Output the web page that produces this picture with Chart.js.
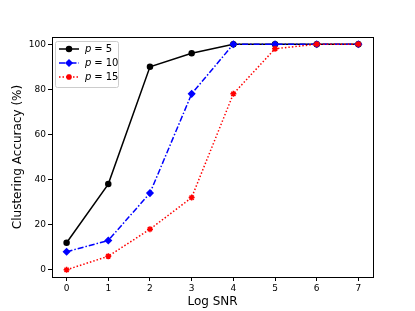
<!DOCTYPE html>
<html>
<head>
<meta charset="utf-8">
<script src="https://cdn.jsdelivr.net/npm/chart.js@4/dist/chart.umd.min.js"></script>
<style>
  html, body { margin: 0; padding: 0; background: #fff; }
  #wrap { width: 415px; height: 311px; }
</style>
</head>
<body>
<div id="wrap"><canvas id="chart" width="415" height="311"></canvas></div>
<script>
const logSnr = [0, 1, 2, 3, 4, 5, 6, 7];
const accP5 = [12, 38, 90, 96, 100, 100, 100, 100];
const accP10 = [8, 13, 34, 78, 100, 100, 100, 100];
const accP15 = [0, 6, 18, 32, 78, 98, 100, 100];
const seriesNames = ['5', '10', '15'];
const xTicks = [0, 1, 2, 3, 4, 5, 6, 7];
const yTicks = [0, 20, 40, 60, 80, 100];

const font = 'DejaVu Sans';

function pts(ys) {
  return logSnr.map((x, i) => ({ x: x, y: ys[i] }));
}

// full box around plot area plus matplotlib-like legend
const boxAndLegend = {
  id: 'boxAndLegend',
  afterDraw(chart) {
    const ctx = chart.ctx;
    const a = chart.chartArea;
    ctx.save();
    ctx.strokeStyle = '#000';
    ctx.lineWidth = 1;
    ctx.strokeRect(a.left + 0.5, a.top + 0.5, a.right - a.left, a.bottom - a.top);

    // legend
    const lx = a.left + 3, ly = a.top + 4, lw = 63, lh = 46;
    ctx.fillStyle = 'rgba(255,255,255,0.8)';
    ctx.strokeStyle = '#ccc';
    ctx.beginPath();
    ctx.roundRect(lx + 0.5, ly + 0.5, lw, lh, 2);
    ctx.fill();
    ctx.stroke();
    chart.data.datasets.forEach((ds, i) => {
      const y = ly + 8 + i * 14;
      const x0 = lx + 4, x1 = lx + 24;
      ctx.strokeStyle = ds.borderColor;
      ctx.fillStyle = ds.borderColor;
      ctx.lineWidth = ds.borderWidth;
      ctx.setLineDash(ds.borderDash || []);
      ctx.beginPath();
      ctx.moveTo(x0, y);
      ctx.lineTo(x1, y);
      ctx.stroke();
      ctx.setLineDash([]);
      Chart.helpers.drawPoint(ctx, {
        pointStyle: ds.pointStyle, radius: ds.pointRadius, borderWidth: 1.5
      }, (x0 + x1) / 2, y);
      ctx.fillStyle = '#000';
      ctx.textBaseline = 'middle';
      ctx.font = 'italic 10px ' + font;
      ctx.fillText('p', x1 + 6, y);
      ctx.font = '10px ' + font;
      ctx.fillText(' = ' + seriesNames[i], x1 + 12, y);
    });
    ctx.restore();
  }
};

function mk(label, data, color, dash, style, r, order) {
  return {
    label: label, data: pts(data), order: order,
    borderColor: color, backgroundColor: color,
    pointBackgroundColor: color, pointBorderColor: color,
    borderWidth: 1.5, borderDash: dash,
    pointStyle: style, pointRadius: r, pointHoverRadius: r,
    pointBorderWidth: 1.5, tension: 0, fill: false
  };
}

new Chart(document.getElementById('chart'), {
  type: 'line',
  data: {
    datasets: [
      mk('p = 5', accP5, '#000000', [], 'circle', 2.5, 3),
      mk('p = 10', accP10, '#0000ff', [6, 2, 1.5, 2], 'rectRot', 3, 2),
      mk('p = 15', accP15, '#ff0000', [1.5, 2], 'star', 3, 1)
    ]
  },
  options: {
    responsive: false,
    animation: false,
    layout: { padding: { top: 37, right: 42, bottom: 2, left: 11 } },
    plugins: { legend: { display: false }, tooltip: { enabled: false } },
    scales: {
      x: {
        type: 'linear', min: -0.35, max: 7.35,
        afterBuildTicks: s => { s.ticks = xTicks.map(v => ({ value: v })); },
        afterFit: s => { s.height = 32; },
        grid: { drawOnChartArea: false, drawTicks: true, tickLength: 4, color: '#000' },
        border: { display: false },
        ticks: { color: '#000', font: { family: font, size: 9 }, padding: 2, maxRotation: 0 },
        title: { display: true, text: 'Log SNR', color: '#000', font: { family: font, size: 12 }, padding: { top: 2, bottom: 0 } }
      },
      y: {
        type: 'linear', min: -3.2, max: 103.2,
        afterBuildTicks: s => { s.ticks = yTicks.map(v => ({ value: v })); },
        afterFit: s => { s.width = 41; },
        grid: { drawOnChartArea: false, drawTicks: true, tickLength: 4, color: '#000' },
        border: { display: false },
        ticks: { color: '#000', font: { family: font, size: 9 }, padding: 2 },
        title: { display: true, text: 'Clustering Accuracy (%)', color: '#000', font: { family: font, size: 12 }, padding: { top: 0, bottom: 2 } }
      }
    }
  },
  plugins: [boxAndLegend]
});
</script>
</body>
</html>
